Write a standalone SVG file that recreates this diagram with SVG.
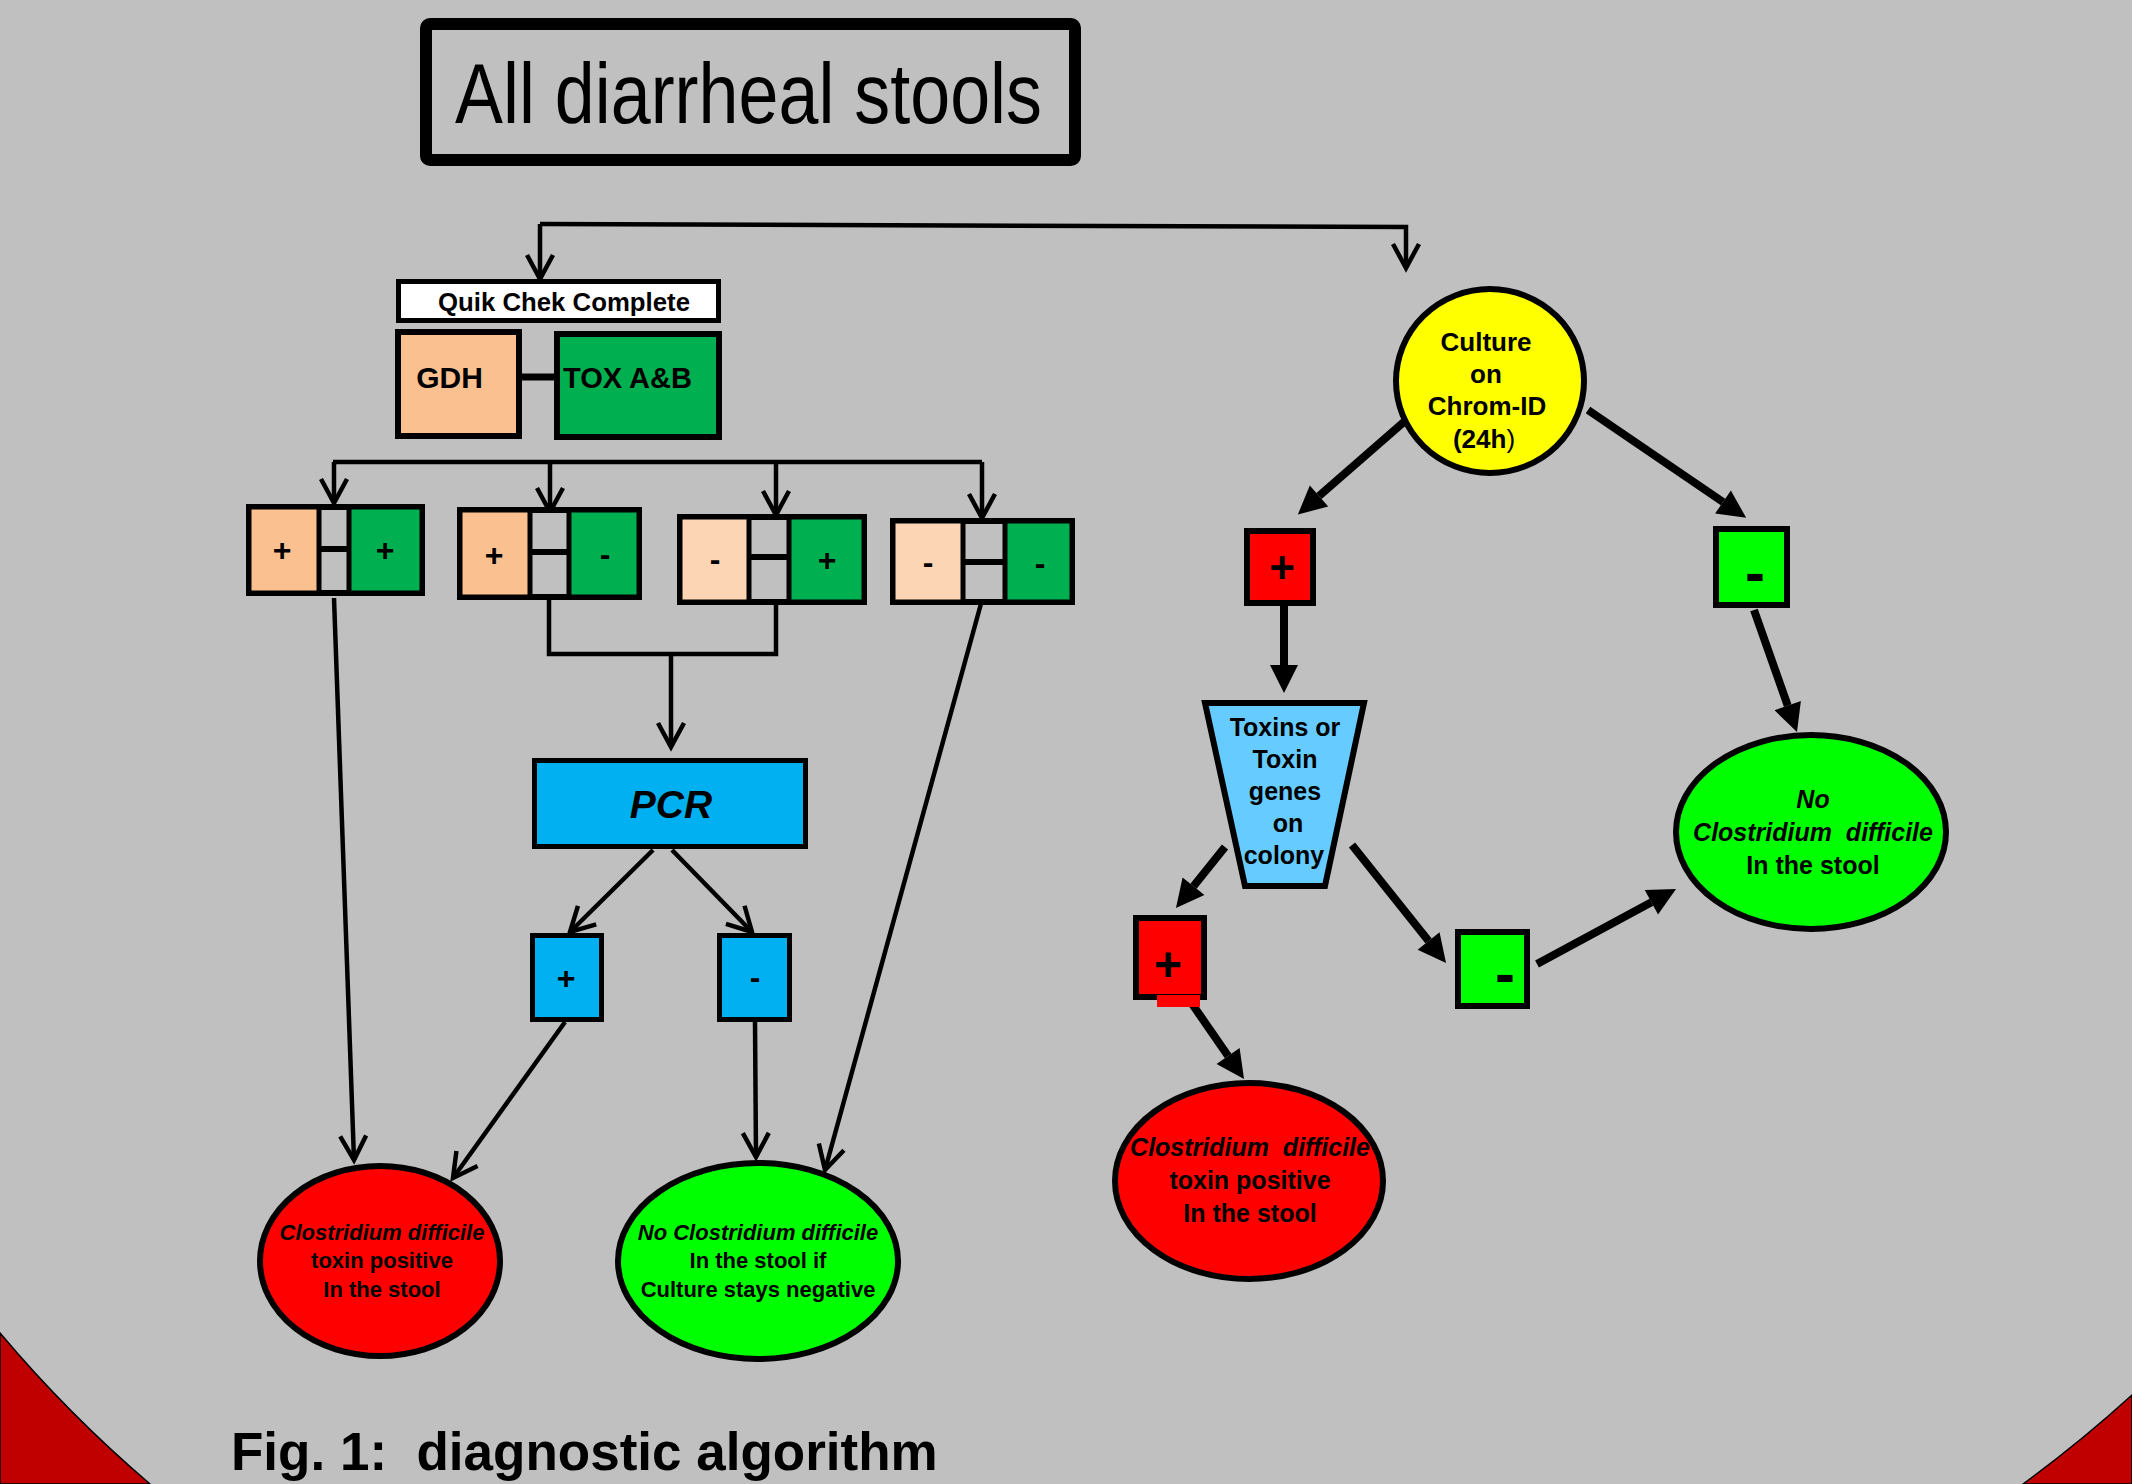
<svg xmlns="http://www.w3.org/2000/svg" width="2132" height="1484" viewBox="0 0 2132 1484">
<style>
text{font-family:"Liberation Sans",Arial,sans-serif;fill:#000}
.b{font-weight:bold}
.bi{font-weight:bold;font-style:italic}
.c{text-anchor:middle}
.ln{fill:none;stroke:#000;stroke-width:4.5}
.thk{fill:none;stroke:#000;stroke-width:8}
.box{stroke:#000;stroke-width:6}
.tray{fill:#C0C0C0;stroke:#000;stroke-width:6}
.peach{fill:#FAC090;stroke:#000;stroke-width:5}
.lpeach{fill:#FCD5B5;stroke:#000;stroke-width:5}
.dgreen{fill:#00B050;stroke:#000;stroke-width:5}
.bar{stroke:#000;stroke-width:6}
.sg{font-weight:bold;font-size:32px;text-anchor:middle}
</style>
<defs>
<marker id="chev" viewBox="0 0 28 28" refX="26" refY="14" markerWidth="28" markerHeight="28" markerUnits="userSpaceOnUse" orient="auto" overflow="visible">
<path d="M2,1 L26,14 L2,27" fill="none" stroke="#000" stroke-width="4.5"/>
</marker>
<marker id="tri" viewBox="0 -14 28 28" refX="0" refY="0" markerWidth="28" markerHeight="28" markerUnits="userSpaceOnUse" orient="auto" overflow="visible">
<path d="M0,-14 L28,0 L0,14 Z" fill="#000"/>
</marker>
</defs>
<rect width="2132" height="1484" fill="#C0C0C0"/>
<g id="corners">
<path d="M0,1333 A1300,1300 0 0 0 150,1484 L0,1484 Z" fill="#C00000" stroke="#000" stroke-width="1.5"/>
<path d="M2132,1395 A1330,1330 0 0 1 2023,1484 L2132,1484 Z" fill="#C00000" stroke="#000" stroke-width="1.5"/>
</g>

<g id="connectors">
<path class="ln" d="M540,224 L1406,227 L1406,268" marker-end="url(#chev)"/>
<path class="ln" d="M540,224 L540,279" marker-end="url(#chev)"/>
<line x1="522" y1="377" x2="554" y2="377" stroke="#000" stroke-width="7"/>
<path class="ln" d="M333,462 L982,462"/>
<path class="ln" d="M334,462 L334,503" marker-end="url(#chev)"/>
<path class="ln" d="M550,462 L550,512" marker-end="url(#chev)"/>
<path class="ln" d="M776,462 L776,515" marker-end="url(#chev)"/>
<path class="ln" d="M982,462 L982,518" marker-end="url(#chev)"/>
<path class="ln" d="M334,598 L354,1160" marker-end="url(#chev)"/>
<path class="ln" d="M549,600 L549,654 L776,654 L776,605"/>
<path class="ln" d="M671,654 L671,747" marker-end="url(#chev)"/>
<path class="ln" d="M982,600 L825,1170" marker-end="url(#chev)"/>
<path class="ln" d="M653,850 L570,932" marker-end="url(#chev)"/>
<path class="ln" d="M672,850 L752,932" marker-end="url(#chev)"/>
<path class="ln" d="M565,1022 L453,1178" marker-end="url(#chev)"/>
<path class="ln" d="M755,1022 L756,1157" marker-end="url(#chev)"/>
<path class="thk" d="M1405,421 L1319,496" marker-end="url(#tri)"/>
<path class="thk" d="M1588,410 L1723,502" marker-end="url(#tri)"/>
<path class="thk" d="M1284,606 L1284,665" marker-end="url(#tri)"/>
<path class="thk" d="M1225,847 L1193.5,886.2" marker-end="url(#tri)"/>
<path class="thk" d="M1352,845 L1428.6,941.1" marker-end="url(#tri)"/>
<path class="thk" d="M1537,964 L1651.4,902.3" marker-end="url(#tri)"/>
<path class="thk" d="M1754,610 L1787.7,705.6" marker-end="url(#tri)"/>
<path class="thk" d="M1188,998 L1228.1,1056" marker-end="url(#tri)"/>
</g>

<g id="title">
<rect x="426" y="24" width="649" height="136" rx="4" fill="none" stroke="#000" stroke-width="12"/>
<text x="455" y="123" font-size="85" textLength="587" lengthAdjust="spacingAndGlyphs">All diarrheal stools</text>
</g>

<g id="quikchek">
<rect x="398.5" y="281.5" width="320" height="39" fill="#FFFFFF" stroke="#000" stroke-width="5"/>
<text class="b" x="438" y="311" font-size="25" textLength="252" lengthAdjust="spacingAndGlyphs">Quik Chek Complete</text>
</g>
<g id="gdh">
<rect class="box" x="398" y="332" width="121" height="104" fill="#FAC090"/>
<text class="b c" x="449.5" y="388" font-size="30">GDH</text>
</g>
<g id="tox">
<rect class="box" x="557" y="334" width="162" height="103" fill="#00B050"/>
<text class="b" x="563" y="388" font-size="29">TOX A&amp;B</text>
</g>

<g id="result-pp">
<rect class="tray" x="249" y="507" width="173" height="86"/>
<rect class="peach" x="249" y="507" width="70" height="86"/>
<rect class="dgreen" x="349" y="507" width="73" height="86"/>
<line class="bar" x1="319" y1="549" x2="349" y2="549"/>
<text class="sg" x="282" y="560.5">+</text>
<text class="sg" x="385" y="560.5">+</text>
</g>
<g id="result-pm">
<rect class="tray" x="460" y="510" width="179" height="87"/>
<rect class="peach" x="460" y="510" width="70" height="87"/>
<rect class="dgreen" x="569" y="510" width="70" height="87"/>
<line class="bar" x1="530" y1="552" x2="569" y2="552"/>
<text class="sg" x="494" y="565.5">+</text>
<text class="sg" x="605" y="564.5">-</text>
</g>
<g id="result-mp">
<rect class="tray" x="680" y="517" width="184" height="85"/>
<rect class="lpeach" x="680" y="517" width="69" height="85"/>
<rect class="dgreen" x="789" y="517" width="75" height="85"/>
<line class="bar" x1="749" y1="557" x2="789" y2="557"/>
<text class="sg" x="715" y="569.5">-</text>
<text class="sg" x="827" y="570.5">+</text>
</g>
<g id="result-mm">
<rect class="tray" x="893" y="521" width="179" height="81"/>
<rect class="lpeach" x="893" y="521" width="70" height="81"/>
<rect class="dgreen" x="1005" y="521" width="67" height="81"/>
<line class="bar" x1="963" y1="562" x2="1005" y2="562"/>
<text class="sg" x="928" y="572.5">-</text>
<text class="sg" x="1040" y="573.5">-</text>
</g>

<g id="pcr">
<rect x="534.5" y="760.5" width="271" height="86" fill="#00B0F0" stroke="#000" stroke-width="5"/>
<text class="bi c" x="671" y="818" font-size="39">PCR</text>
</g>
<g id="pcr-pos">
<rect x="532.5" y="935.5" width="69" height="84" fill="#00B0F0" stroke="#000" stroke-width="5"/>
<text class="sg" x="566" y="989">+</text>
</g>
<g id="pcr-neg">
<rect x="719.5" y="935.5" width="70" height="84" fill="#00B0F0" stroke="#000" stroke-width="5"/>
<text class="sg" x="755" y="988">-</text>
</g>

<g id="left-positive">
<ellipse cx="380" cy="1261" rx="120" ry="95" fill="#FF0000" stroke="#000" stroke-width="6"/>
<text class="c" x="382" y="1240" font-size="22"><tspan class="bi">Clostridium difficile</tspan></text>
<text class="b c" x="382" y="1268" font-size="22">toxin positive</text>
<text class="b c" x="382" y="1297" font-size="22">In the stool</text>
</g>
<g id="left-negative">
<ellipse cx="758" cy="1261" rx="140" ry="98" fill="#00FF00" stroke="#000" stroke-width="6"/>
<text class="bi c" x="758" y="1240" font-size="22">No Clostridium difficile</text>
<text class="b c" x="758" y="1268" font-size="22">In the stool if</text>
<text class="b c" x="758" y="1297" font-size="22">Culture stays negative</text>
</g>

<g id="culture">
<ellipse cx="1490" cy="381" rx="94" ry="92" fill="#FFFF00" stroke="#000" stroke-width="6"/>
<text class="b c" x="1486" y="351" font-size="26">Culture</text>
<text class="b c" x="1486" y="383" font-size="26">on</text>
<text class="b c" x="1487" y="415" font-size="26">Chrom-ID</text>
<text class="c" x="1484" y="448" font-size="26"><tspan font-weight="bold">(24h</tspan>)</text>
</g>
<g id="culture-pos">
<rect class="box" x="1247" y="531" width="66" height="72" fill="#FF0000"/>
<text class="b c" x="1282" y="583" font-size="44">+</text>
</g>
<g id="culture-neg">
<rect class="box" x="1716" y="529" width="71" height="76" fill="#00FF00"/>
<text class="b c" x="1755" y="593" font-size="60">-</text>
</g>
<g id="toxins">
<polygon points="1205,703 1364,703 1325,886 1245,886" fill="#66CCFF" stroke="#000" stroke-width="6"/>
<text class="b c" x="1285" y="736" font-size="25">Toxins or</text>
<text class="b c" x="1285" y="768" font-size="25">Toxin</text>
<text class="b c" x="1285" y="800" font-size="25">genes</text>
<text class="b c" x="1288" y="832" font-size="25">on</text>
<text class="b c" x="1284" y="864" font-size="25">colony</text>
</g>
<g id="toxin-pos">
<rect class="box" x="1136" y="918" width="68" height="79" fill="#FF0000"/>
<rect x="1157" y="995" width="43" height="12" fill="#FF0000"/>
<text class="b c" x="1168" y="981" font-size="48">+</text>
</g>
<g id="toxin-neg">
<rect class="box" x="1458" y="932" width="69" height="74" fill="#00FF00"/>
<text class="b c" x="1505" y="994" font-size="60">-</text>
</g>
<g id="right-positive">
<ellipse cx="1249" cy="1181" rx="134" ry="98" fill="#FF0000" stroke="#000" stroke-width="6"/>
<text class="bi c" x="1250" y="1156" font-size="25" xml:space="preserve">Clostridium  difficile</text>
<text class="b c" x="1250" y="1189" font-size="25">toxin positive</text>
<text class="b c" x="1250" y="1222" font-size="25">In the stool</text>
</g>
<g id="right-negative">
<ellipse cx="1811" cy="832" rx="135" ry="97" fill="#00FF00" stroke="#000" stroke-width="6"/>
<text class="bi c" x="1813" y="808" font-size="25">No</text>
<text class="bi c" x="1813" y="841" font-size="25" xml:space="preserve">Clostridium  difficile</text>
<text class="b c" x="1813" y="874" font-size="25">In the stool</text>
</g>

<g id="caption">
<text class="b" x="231" y="1470" font-size="53" xml:space="preserve">Fig. 1:  diagnostic algorithm</text>
</g>
</svg>
